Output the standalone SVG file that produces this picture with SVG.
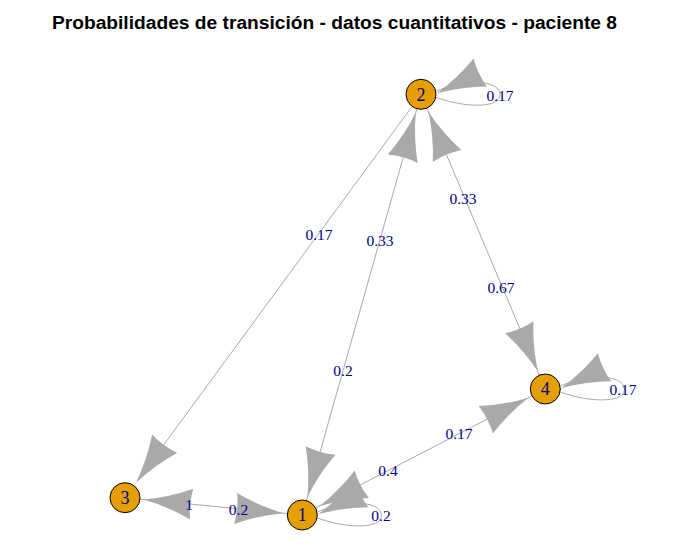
<svg xmlns="http://www.w3.org/2000/svg" xmlns:xlink="http://www.w3.org/1999/xlink" width="696" height="558" viewBox="0 0 696 558">
<style>
.e{stroke:#A9A9A9;stroke-width:1;fill:none}
.ah{fill:#A9A9A9}
.el{font-family:"Liberation Serif","Times New Roman",serif;font-size:15.5px;fill:#00008B;text-anchor:middle}
.nc{fill:#E69F00;stroke:#000;stroke-width:1}
.nl{font-family:"Liberation Serif","Times New Roman",serif;font-size:18px;fill:#00008B;text-anchor:middle}
.title{font-family:"Liberation Sans",Arial,sans-serif;font-size:19.2px;font-weight:bold;fill:#000;text-anchor:middle}
</style>
<defs>
<path id="ah" class="ah" d="M0,0 Q-26,-5 -48,-15.5 Q-45,0 -48,15.5 Q-26,5 0,0 Z"/>
<path id="loop" class="e" d="M15,-3 C40,-14 78,-16 79,0 C80,14 45,14 15,3"/>
</defs>
<rect width="696" height="558" fill="#fff"/>
<text class="title" x="334.5" y="28.5">Probabilidades de transición - datos cuantitativos - paciente 8</text>
<g id="edges">
<line class="e" x1="421" y1="94.3" x2="162.2" y2="446.9"/>
<line class="e" x1="302.3" y1="515" x2="421" y2="94.3"/>
<line class="e" x1="421" y1="94.3" x2="545.3" y2="389"/>
<line class="e" x1="302.3" y1="515" x2="545.3" y2="389"/>
<line class="e" x1="125" y1="497.7" x2="302.3" y2="515"/>
<use href="#loop" xlink:href="#loop" transform="translate(421,94.3)"/>
<use href="#loop" xlink:href="#loop" transform="translate(545.3,389)"/>
<use href="#loop" xlink:href="#loop" transform="translate(302.3,515)"/>
<use href="#ah" xlink:href="#ah" transform="translate(136.2,482.4) rotate(126.3)"/>
<use href="#ah" xlink:href="#ah" transform="translate(415.8,112.6) rotate(-74.24)"/>
<use href="#ah" xlink:href="#ah" transform="translate(307.5,496.7) rotate(105.76)"/>
<use href="#ah" xlink:href="#ah" transform="translate(428.4,111.8) rotate(-112.87)"/>
<use href="#ah" xlink:href="#ah" transform="translate(537.9,371.5) rotate(67.13)"/>
<use href="#ah" xlink:href="#ah" transform="translate(528.4,397.7) rotate(-27.41)"/>
<use href="#ah" xlink:href="#ah" transform="translate(319.2,506.3) rotate(152.59)"/>
<use href="#ah" xlink:href="#ah" transform="translate(143.9,499.5) rotate(-174.43)"/>
<use href="#ah" xlink:href="#ah" transform="translate(283.4,513.2) rotate(5.57)"/>
<use href="#ah" xlink:href="#ah" transform="translate(437,93.3) rotate(154.4)"/>
<use href="#ah" xlink:href="#ah" transform="translate(561.3,388) rotate(154.4)"/>
<use href="#ah" xlink:href="#ah" transform="translate(318.3,514) rotate(154.4)"/>
</g>
<g id="edge-labels">
<text class="el" x="500" y="101">0.17</text>
<text class="el" x="319" y="240">0.17</text>
<text class="el" x="380" y="246">0.33</text>
<text class="el" x="463" y="204">0.33</text>
<text class="el" x="501" y="292.5">0.67</text>
<text class="el" x="343" y="376">0.2</text>
<text class="el" x="623" y="395">0.17</text>
<text class="el" x="459" y="439">0.17</text>
<text class="el" x="388" y="476">0.4</text>
<text class="el" x="381" y="520.5">0.2</text>
<text class="el" x="189" y="510">1</text>
<text class="el" x="238.5" y="515">0.2</text>
</g>
<g id="node-1"><circle class="nc" cx="302.3" cy="515" r="15"/><text class="nl" x="302.3" y="521.3">1</text></g>
<g id="node-2"><circle class="nc" cx="421" cy="94.3" r="15"/><text class="nl" x="421" y="100.6">2</text></g>
<g id="node-3"><circle class="nc" cx="125" cy="497.7" r="15"/><text class="nl" x="125" y="504">3</text></g>
<g id="node-4"><circle class="nc" cx="545.3" cy="389" r="15"/><text class="nl" x="545.3" y="395.3">4</text></g>
</svg>
